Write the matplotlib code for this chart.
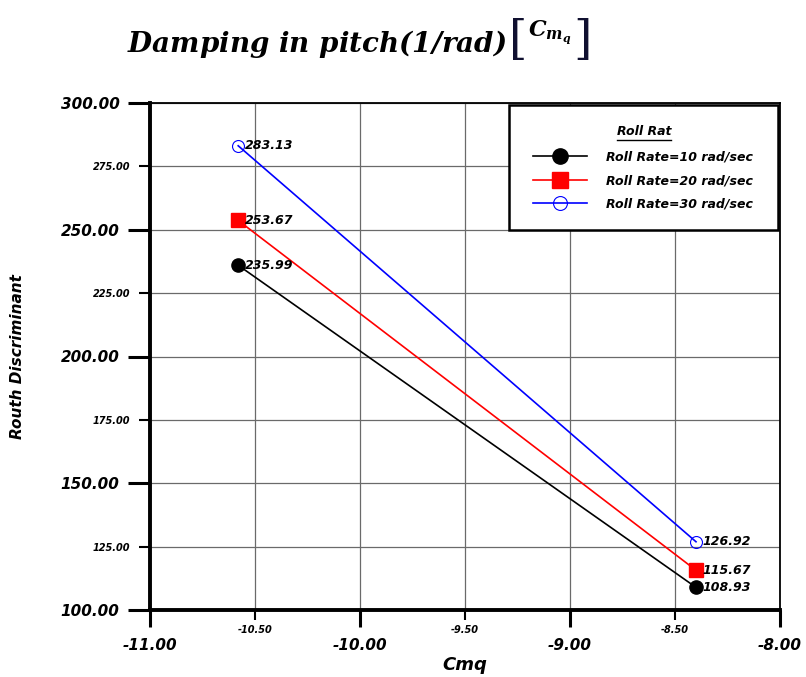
import matplotlib
matplotlib.use("Agg")
import matplotlib.pyplot as plt
from matplotlib.ticker import MultipleLocator, FormatStrFormatter
from matplotlib.lines import Line2D
from matplotlib.patches import Rectangle
from matplotlib.transforms import offset_copy

# ---- data ----
cmq = [-10.58, -8.40]
rd_10 = [235.99, 108.93]
rd_20 = [253.67, 115.67]
rd_30 = [283.13, 126.92]
series_labels = ["Roll Rate=10 rad/sec", "Roll Rate=20 rad/sec", "Roll Rate=30 rad/sec"]
legend_title = "Roll Rat"
x_label = "Cmq"
y_label = "Routh Discriminant"
title_main = r'$\mathbfit{Damping\ in\ pitch}(1/\mathbfit{rad})$'
title_sym = r'$\mathbfit{C}_{\mathbfit{m}_{\mathbfit{q}}}$'

plt.rcParams['font.family'] = ['DejaVu Sans']
plt.rcParams['font.weight'] = 'bold'
plt.rcParams['font.style'] = 'italic'
plt.rcParams['mathtext.fontset'] = 'dejavuserif'

W, H = 806, 677
fig = plt.figure(figsize=(W / 100, H / 100), dpi=100)
ax = fig.add_axes([150 / W, 1 - 610 / H, 630 / W, 507 / H])

ax.set_xlim(-11, -8)
ax.set_ylim(100, 300)

ax.xaxis.set_major_locator(MultipleLocator(1.0))
ax.xaxis.set_minor_locator(MultipleLocator(0.5))
ax.yaxis.set_major_locator(MultipleLocator(50))
ax.yaxis.set_minor_locator(MultipleLocator(25))
ax.xaxis.set_major_formatter(FormatStrFormatter('%.2f'))
ax.xaxis.set_minor_formatter(FormatStrFormatter('%.2f'))
ax.yaxis.set_major_formatter(FormatStrFormatter('%.2f'))
ax.yaxis.set_minor_formatter(FormatStrFormatter('%.2f'))
ax.grid(True, which='both', color='#6a6a6a', lw=0.9, zorder=0)
ax.set_axisbelow(True)

ax.tick_params(axis='x', which='major', direction='out', length=12, width=2.2, pad=8, labelsize=11)
ax.tick_params(axis='x', which='minor', direction='out', length=7, width=1.5, pad=4, labelsize=7)
ax.tick_params(axis='y', which='major', direction='out', length=15.5, width=2.2, pad=6.5, labelsize=11)
ax.tick_params(axis='y', which='minor', direction='out', length=7.7, width=1.5, pad=6.5, labelsize=7)

for side in ['left', 'bottom']:
    ax.spines[side].set_linewidth(2.8)
for side in ['top', 'right']:
    ax.spines[side].set_linewidth(1.3)

# series
ax.plot(cmq, rd_10, color='black', lw=1.2, marker='o', ms=9.5, mfc='black', mec='black', zorder=3)
ax.plot(cmq, rd_20, color='red', lw=1.2, marker='s', ms=10, mfc='red', mec='red', zorder=3)
ax.plot(cmq, rd_30, color='blue', lw=1.2, marker='o', ms=8.6, mfc='none', mec='blue', mew=0.8, zorder=3)

for ys in (rd_10, rd_20, rd_30):
    for x, y in zip(cmq, ys):
        ax.annotate(f"{y:.2f}", (x, y), xytext=(5, 0), textcoords='offset points',
                    ha='left', va='center', fontsize=9, zorder=4)

ax.set_xlabel(x_label, fontsize=13, fontweight='bold', fontstyle='italic', labelpad=2)
ax.set_ylabel(y_label, fontsize=11, fontweight='bold', fontstyle='italic', labelpad=0)
ax.yaxis.set_label_coords((25 - 150) / 630, 0.5)

# legend frame
rect = Rectangle((509 / W, 1 - 230 / H), 269 / W, 125 / H, transform=fig.transFigure,
                 facecolor='white', edgecolor='black', lw=1.8, zorder=4, clip_on=False)
ax.add_patch(rect)

h1 = Line2D([], [], color='black', lw=1.2, marker='o', ms=11, mfc='black', mec='black')
h2 = Line2D([], [], color='red', lw=1.2, marker='s', ms=12, mfc='red', mec='red')
h3 = Line2D([], [], color='blue', lw=1.2, marker='o', ms=10, mfc='none', mec='blue', mew=0.8)
leg = ax.legend([h1, h2, h3], series_labels, loc='upper left',
                bbox_to_anchor=(533 / W, 1 - 150.5 / H), bbox_transform=fig.transFigure,
                frameon=False, borderpad=0, borderaxespad=0, fontsize=9,
                handlelength=4.3, handletextpad=1.5, labelspacing=0.84)
leg.set_zorder(5)

ttl = fig.text(644 / W, 1 - 135 / H, legend_title, ha='center', va='baseline', fontsize=9, zorder=6)

# title pieces
t1 = fig.text(127 / W, 1 - 52 / H, title_main, ha='left', va='baseline', fontsize=20)

fig.canvas.draw()
r = fig.canvas.get_renderer()
bb1 = t1.get_window_extent(r)
x = bb1.x1 + 2
br1 = fig.text(x / W, 1 - 54 / H, '[', ha='left', va='baseline', fontsize=34,
               family='DejaVu Serif', fontweight='normal', fontstyle='normal', color='#101030')
fig.canvas.draw()
x = br1.get_window_extent(r).x1 + 1
ts = fig.text(x / W, 1 - 36 / H, title_sym, ha='left', va='baseline', fontsize=16)
fig.canvas.draw()
x = ts.get_window_extent(r).x1 + 1
fig.text(x / W, 1 - 54 / H, ']', ha='left', va='baseline', fontsize=34,
         family='DejaVu Serif', fontweight='normal', fontstyle='normal', color='#101030')

fig.canvas.draw()
bb = ttl.get_window_extent(r)
ypix = bb.y0 - 1.5
fig.add_artist(Line2D([bb.x0 / W, bb.x1 / W], [ypix / H, ypix / H], color='black', lw=1.0,
                      transform=fig.transFigure, zorder=7))

fig.savefig("out.png", dpi=100)
